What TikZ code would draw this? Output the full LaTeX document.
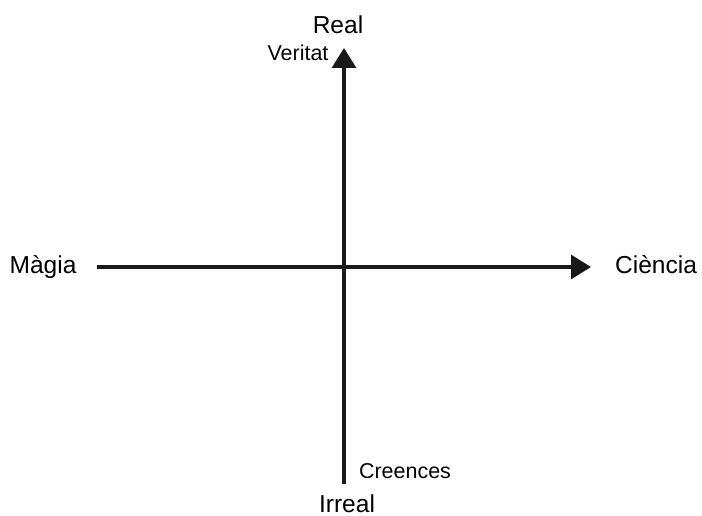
\documentclass[tikz,border=0pt]{standalone}
\usepackage{fontspec}
\setmainfont{Liberation Sans}
\usetikzlibrary{arrows.meta}

\begin{document}
\begin{tikzpicture}[
    x=0.75pt, y=-0.75pt,
    axis/.style={line width=2.3pt, draw=black!90, -{Triangle[length=15pt, width=18pt]}},
    bigtext/.style={anchor=base, inner sep=0pt, font=\fontsize{18.4}{22}\selectfont},
    smalltext/.style={anchor=base, inner sep=0pt, font=\fontsize{16.1}{19}\selectfont}
]
    \useasboundingbox (0,0) rectangle (702,516);

    \coordinate (left) at (97, 267);
    \coordinate (right) at (591, 267);
    \coordinate (bottom) at (344, 484);
    \coordinate (top) at (344, 48);

    \draw[axis] (left) -- (right);
    \draw[axis] (bottom) -- (top);

    \node[bigtext] (real) at (338, 34) {Real};
    \node[smalltext] (veritat) at (298, 61) {Veritat};
    \node[bigtext] (magia) at (43, 273) {Màgia};
    \node[bigtext] (ciencia) at (656, 273) {Ciència};
    \node[smalltext] (creences) at (405, 478) {Creences};
    \node[bigtext] (irreal) at (347, 512) {Irreal};
\end{tikzpicture}
\end{document}
